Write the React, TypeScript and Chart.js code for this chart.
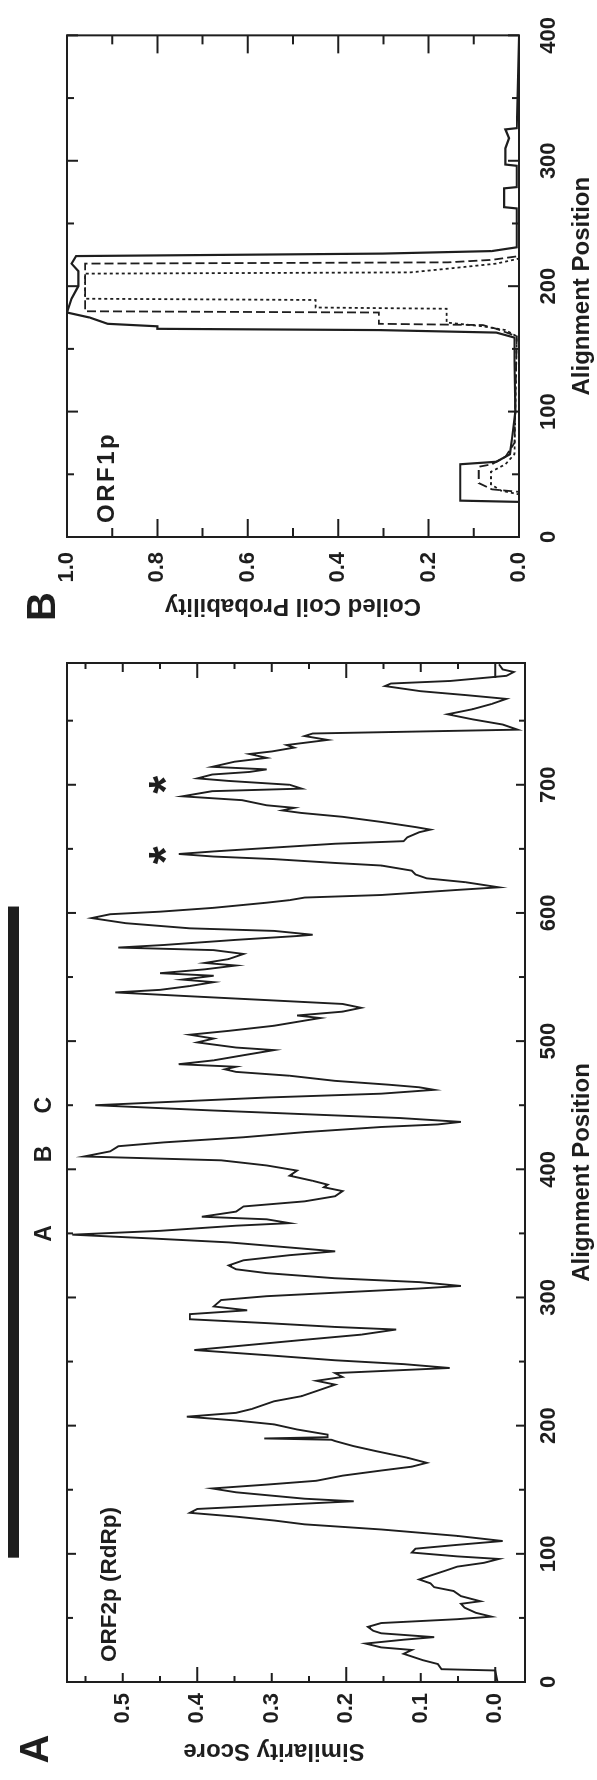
import React, { useEffect, useRef } from 'react';
import { Chart, registerables } from 'chart.js';

Chart.register(...registerables);

const FONT = '"Liberation Sans", Arial, Helvetica, sans-serif';
const INK = '#1e1e1e';

// ---------------- Panel A : ORF2p (RdRp) similarity plot ----------------
const orf2Position = [
  0, 9, 10, 14, 17, 22, 25, 27, 30, 33, 35, 38, 40, 43, 46, 49, 51, 54, 58, 61, 63, 67, 71, 74, 77, 80, 83, 87, 90, 93,
  96, 98, 101, 104, 107, 110, 114, 119, 123, 126, 129, 132, 135, 138, 141, 143, 148, 151, 154, 157, 161, 165, 168, 171,
  175, 180, 184, 188, 189, 190, 191, 193, 197, 201, 204, 207, 210, 213, 219, 223, 228, 232, 235, 238, 241, 245, 248, 251,
  255, 259, 262, 267, 271, 275, 277, 280, 283, 287, 290, 293, 298, 301, 304, 307, 309, 312, 315, 319, 322, 325, 329, 333,
  336, 339, 343, 346, 349, 352, 356, 358, 361, 363, 367, 371, 375, 379, 383, 386, 388, 391, 395, 399, 403, 407, 410, 414,
  418, 421, 425, 429, 433, 435, 437, 440, 443, 446, 450, 452, 456, 459, 462, 464, 466, 469, 473, 476, 478, 480, 482, 485,
  489, 493, 495, 499, 502, 505, 508, 512, 516, 518, 520, 523, 526, 529, 532, 535, 538, 540, 543, 546, 548, 551, 553, 556,
  559, 561, 564, 568, 571, 573, 575, 579, 582, 583, 586, 588, 592, 596, 599, 601, 604, 608, 610, 612, 614, 618, 620, 624,
  627, 630, 633, 637, 639, 642, 644, 646, 648, 651, 654, 656, 659, 663, 665, 667, 671, 675, 678, 680, 682, 684, 688, 691,
  695, 697, 700, 703, 705, 708, 710, 712, 714, 718, 721, 724, 726, 729, 731, 735, 738, 740, 743, 747, 751, 755, 759, 763,
  767, 770, 773, 777, 779, 781, 785, 788, 790, 794,
];
const orf2Similarity = [
  -0.003, 0.0, 0.072, 0.077, 0.097, 0.123, 0.112, 0.153, 0.174, 0.123, 0.082, 0.153, 0.164, 0.171, 0.153, 0.051, 0.005,
  0.026, 0.041, 0.046, 0.02, 0.046, 0.056, 0.082, 0.087, 0.102, 0.087, 0.066, 0.051, 0.015,
  -0.005, 0.051, 0.112, 0.107, 0.051, -0.01, 0.051, 0.153, 0.256, 0.297, 0.348, 0.41, 0.4, 0.297, 0.19, 0.256, 0.348,
  0.38, 0.307, 0.24, 0.205, 0.153, 0.112, 0.092,
  0.118, 0.159, 0.19, 0.215, 0.22, 0.31, 0.225, 0.225, 0.266, 0.297, 0.348, 0.414, 0.348, 0.327, 0.297, 0.26, 0.235,
  0.215, 0.24, 0.205, 0.215, 0.061, 0.123, 0.215,
  0.307, 0.404, 0.348, 0.256, 0.18, 0.133, 0.215, 0.307, 0.41, 0.41, 0.333, 0.378, 0.368, 0.307, 0.205, 0.102, 0.046,
  0.102, 0.215, 0.307, 0.348, 0.358, 0.338, 0.276,
  0.215, 0.276, 0.358, 0.46, 0.568, 0.45, 0.348, 0.276, 0.307, 0.394, 0.348, 0.338, 0.256, 0.215, 0.205, 0.23, 0.225,
  0.245, 0.276, 0.266, 0.307, 0.368, 0.552, 0.517,
  0.506, 0.445, 0.338, 0.256, 0.153, 0.077, 0.046, 0.128, 0.256, 0.384, 0.537, 0.46, 0.307, 0.153, 0.082, 0.102, 0.143,
  0.215, 0.276, 0.348, 0.363, 0.348, 0.425, 0.378,
  0.338, 0.297, 0.348, 0.4, 0.378, 0.41, 0.358, 0.297, 0.256, 0.235, 0.266, 0.205, 0.18, 0.205, 0.307, 0.41, 0.51, 0.45,
  0.41, 0.378, 0.42, 0.378, 0.45, 0.39,
  0.348, 0.39, 0.358, 0.338, 0.378, 0.506, 0.445, 0.348, 0.266, 0.245, 0.297, 0.41, 0.496, 0.542, 0.517, 0.45, 0.378,
  0.307, 0.276, 0.256, 0.153, 0.05, -0.005, 0.04,
  0.092, 0.107, 0.112, 0.153, 0.215, 0.297, 0.378, 0.425, 0.378, 0.297, 0.215, 0.123, 0.118, 0.102, 0.087, 0.107, 0.153,
  0.205, 0.26, 0.286, 0.27, 0.307, 0.34, 0.42,
  0.38, 0.26, 0.276, 0.358, 0.4, 0.38, 0.33, 0.307, 0.38, 0.35, 0.307, 0.33, 0.3, 0.27, 0.28, 0.225, 0.256, 0.245, -0.03,
  -0.01, 0.03, 0.064, 0.03, 0.005,
  -0.015, 0.04, 0.1, 0.148, 0.14, 0.06, -0.015, -0.025, -0.01, -0.005,
];
const motifLabels = ['A', 'B', 'C'];
const motifPositions = [350, 412, 450];
const asteriskPositions = [645, 700];
const asteriskLevel = 0.453;
const rdrpBarRange = [97, 605];
const simLabelTicks = [0, 0.1, 0.2, 0.3, 0.4, 0.5];
const simTickMarks = [0, 0.05, 0.1, 0.15, 0.2, 0.25, 0.3, 0.35, 0.4, 0.45, 0.5, 0.55];
const posLabelTicksA = [0, 100, 200, 300, 400, 500, 600, 700];
const posTickMarksA = [0, 50, 100, 150, 200, 250, 300, 350, 400, 450, 500, 550, 600, 650, 700, 750];

// ---------------- Panel B : ORF1p coiled-coil probability ----------------
const coilSolidPos = [0, 28, 29, 58, 60, 66, 80, 100, 140, 159, 163, 165, 166, 168, 170, 175, 179, 190, 200, 212, 218, 224,
  226, 228, 231, 262, 263, 278, 279, 296, 297, 310, 318, 325, 326, 400];
const coilSolidProb = [0, 0, 0.13, 0.13, 0.05, 0.02, 0.015, 0.008, 0.01, 0.01, 0.05, 0.31, 0.8, 0.8, 0.91, 0.95, 1.0, 0.99,
  0.975, 0.975, 0.99, 0.98, 0.3, 0.06, 0.005, 0.005, 0.033, 0.033, 0.005, 0.005, 0.03, 0.03, 0.022, 0.03, 0.005, 0];
const coilDashPos = [0, 36, 38, 43, 56, 58, 64, 75, 160, 166, 169, 170, 179, 180, 218, 219, 221, 224, 400];
const coilDashProb = [0, 0, 0.06, 0.089, 0.089, 0.06, 0.03, 0.01, 0.005, 0.05, 0.08, 0.31, 0.31, 0.96, 0.96, 0.157, 0.06, 0, 0];
const coilDotPos = [0, 34, 37, 42, 52, 58, 66, 160, 165, 168, 171, 182, 183, 189, 190, 210, 211, 214, 218, 222, 400];
const coilDotProb = [0, 0, 0.04, 0.062, 0.062, 0.03, 0.01, 0.005, 0.03, 0.08, 0.16, 0.16, 0.45, 0.45, 0.96, 0.96, 0.24,
  0.157, 0.05, 0, 0];
const probLabelTicks = [0, 0.2, 0.4, 0.6, 0.8, 1.0];
const probTickMarks = [0, 0.1, 0.2, 0.3, 0.4, 0.5, 0.6, 0.7, 0.8, 0.9, 1.0];
const posLabelTicksB = [0, 100, 200, 300, 400];
const posTickMarksB = [0, 50, 100, 150, 200, 250, 300, 350, 400];

const isMult = (v: number, step: number) => Math.abs(v / step - Math.round(v / step)) < 1e-6;

function textCentered(ctx: CanvasRenderingContext2D, text: string, cx: number, cy: number, font: string, align: CanvasTextAlign = 'center') {
  ctx.font = font;
  ctx.textAlign = align;
  ctx.textBaseline = 'alphabetic';
  const m = ctx.measureText(text);
  ctx.fillText(text, cx, cy + (m.actualBoundingBoxAscent - m.actualBoundingBoxDescent) / 2);
}

function frame(chart: any, xMarks: number[], xLen: (v: number) => number, yMarks: number[], yLen: (v: number) => number) {
  const { ctx, chartArea, scales } = chart;
  const { left, right, top, bottom } = chartArea;
  ctx.save();
  ctx.strokeStyle = INK;
  ctx.lineWidth = 2;
  ctx.strokeRect(left, top, right - left, bottom - top);
  ctx.beginPath();
  for (const v of xMarks) {
    const px = scales.x.getPixelForValue(v);
    const l = xLen(v);
    ctx.moveTo(px, bottom); ctx.lineTo(px, bottom - l);
    ctx.moveTo(px, top); ctx.lineTo(px, top + l);
  }
  for (const v of yMarks) {
    const py = scales.y.getPixelForValue(v);
    const l = yLen(v);
    ctx.moveTo(left, py); ctx.lineTo(left + l, py);
    ctx.moveTo(right, py); ctx.lineTo(right - l, py);
  }
  ctx.stroke();
  ctx.restore();
}

const tickFont = { family: FONT, size: 22, weight: 'bold' as const };
const titleFont = { family: FONT, size: 24, weight: 'bold' as const };

function PanelA() {
  const ref = useRef<HTMLCanvasElement>(null);
  useEffect(() => {
    const plugin = {
      id: 'frameA',
      afterDraw(chart: any) {
        frame(chart, posTickMarksA, (v) => (isMult(v, 100) ? 9 : 6), simTickMarks,
          (v) => (isMult(v, 0.2) ? 15 : isMult(v, 0.1) ? 9 : 6));
        const { ctx, chartArea, scales } = chart;
        const { top } = chartArea;
        ctx.save();
        ctx.fillStyle = INK;
        const x0 = scales.x.getPixelForValue(rdrpBarRange[0]);
        const x1 = scales.x.getPixelForValue(rdrpBarRange[1]);
        ctx.fillRect(x0, top - 59, x1 - x0, 11);
        motifLabels.forEach((t, i) => {
          textCentered(ctx, t, scales.x.getPixelForValue(motifPositions[i]), top - 25, `bold 23px ${FONT}`);
        });
        asteriskPositions.forEach((p) => {
          textCentered(ctx, '*', scales.x.getPixelForValue(p), scales.y.getPixelForValue(asteriskLevel), `bold 46px ${FONT}`);
        });
        ctx.font = `bold 22.5px ${FONT}`;
        const m = ctx.measureText('ORF2p (RdRp)');
        ctx.textAlign = 'left';
        ctx.textBaseline = 'alphabetic';
        ctx.fillText('ORF2p (RdRp)', 118, 110 + (m.actualBoundingBoxAscent - m.actualBoundingBoxDescent) / 2);
        textCentered(ctx, 'A', 31, 34, `bold 40px ${FONT}`);
        // y-axis title, placed a little above the plot centre as in the original figure
        ctx.translate(29, 274);
        ctx.rotate(-Math.PI / 2);
        textCentered(ctx, 'Similarity Score', 0, 0, `bold 24px ${FONT}`);
        ctx.restore();
      },
    };
    const chart = new Chart(ref.current!, {
      type: 'line',
      data: {
        datasets: [{
          data: orf2Position.map((x, i) => ({ x, y: orf2Similarity[i] })),
          borderColor: INK,
          borderWidth: 1.9,
          pointRadius: 0,
          fill: false,
          tension: 0,
        }],
      },
      options: {
        animation: false,
        responsive: false,
        devicePixelRatio: 1,
        layout: { padding: { left: 0, top: 67, right: 23, bottom: 0 } },
        plugins: { legend: { display: false }, tooltip: { enabled: false } },
        scales: {
          x: {
            type: 'linear', min: 0, max: 795,
            afterFit: (s: any) => { s.height = 72; },
            afterBuildTicks: (s: any) => { s.ticks = posLabelTicksA.map((value) => ({ value })); },
            grid: { display: false, drawTicks: false },
            border: { display: false },
            ticks: { autoSkip: false, maxRotation: 0, padding: 11, color: INK, font: tickFont, callback: (v: any) => String(v) },
            title: { display: true, text: 'Alignment Position', color: INK, font: titleFont, padding: { top: 0, bottom: 0 } },
          },
          y: {
            type: 'linear', min: -0.04, max: 0.575,
            afterFit: (s: any) => { s.width = 98; },
            afterBuildTicks: (s: any) => { s.ticks = simLabelTicks.map((value) => ({ value })); },
            grid: { display: false, drawTicks: false },
            border: { display: false },
            ticks: { autoSkip: false, padding: 11, color: INK, font: tickFont, callback: (v: any) => Number(v).toFixed(1) },
            title: { display: false },
          },
        },
      },
      plugins: [plugin],
    } as any);
    return () => chart.destroy();
  }, []);
  return <canvas ref={ref} width={1140} height={597} style={{ position: 'absolute', left: 0, top: 0, width: 1140, height: 597 }} />;
}

function PanelB() {
  const ref = useRef<HTMLCanvasElement>(null);
  useEffect(() => {
    const plugin = {
      id: 'frameB',
      afterDraw(chart: any) {
        frame(chart, posTickMarksB, (v) => (isMult(v, 100) ? 11 : 7), probTickMarks, (v) => (isMult(v, 0.2) ? 18 : 9));
        const { ctx } = chart;
        ctx.save();
        ctx.fillStyle = INK;
        ctx.font = `bold 24px ${FONT}`;
        (ctx as any).letterSpacing = '2.5px';
        const m = ctx.measureText('ORF1p');
        ctx.textAlign = 'left';
        ctx.textBaseline = 'alphabetic';
        ctx.fillText('ORF1p', 117, 107.5 + (m.actualBoundingBoxAscent - m.actualBoundingBoxDescent) / 2);
        (ctx as any).letterSpacing = '0px';
        textCentered(ctx, 'B', 33.5, 41, `bold 40px ${FONT}`);
        ctx.restore();
      },
    };
    const ds = (xs: number[], ys: number[], width: number, dash: number[]) => ({
      data: xs.map((x, i) => ({ x, y: ys[i] })),
      borderColor: INK,
      borderWidth: width,
      borderDash: dash,
      pointRadius: 0,
      fill: false,
      tension: 0,
    });
    const chart = new Chart(ref.current!, {
      type: 'line',
      data: {
        datasets: [
          ds(coilDotPos, coilDotProb, 1.8, [3, 3]),
          ds(coilDashPos, coilDashProb, 1.8, [9, 4]),
          ds(coilSolidPos, coilSolidProb, 2.2, []),
        ],
      },
      options: {
        animation: false,
        responsive: false,
        devicePixelRatio: 1,
        layout: { padding: { left: 0, top: 67, right: 24, bottom: 0 } },
        plugins: { legend: { display: false }, tooltip: { enabled: false } },
        scales: {
          x: {
            type: 'linear', min: 0, max: 400,
            afterFit: (s: any) => { s.height = 78; },
            afterBuildTicks: (s: any) => { s.ticks = posLabelTicksB.map((value) => ({ value })); },
            grid: { display: false, drawTicks: false },
            border: { display: false },
            ticks: { autoSkip: false, maxRotation: 0, padding: 17, color: INK, font: tickFont, callback: (v: any) => String(v) },
            title: { display: true, text: 'Alignment Position', color: INK, font: titleFont, padding: { top: 0, bottom: 0 } },
          },
          y: {
            type: 'linear', min: 0, max: 1,
            afterFit: (s: any) => { s.width = 103; },
            afterBuildTicks: (s: any) => { s.ticks = probLabelTicks.map((value) => ({ value })); },
            grid: { display: false, drawTicks: false },
            border: { display: false },
            ticks: { autoSkip: false, padding: 15, color: INK, font: tickFont, callback: (v: any) => Number(v).toFixed(1) },
            title: { display: true, text: 'Coiled Coil Probability', color: INK, font: titleFont, padding: { top: 20, bottom: 0 } },
          },
        },
      },
      plugins: [plugin],
    } as any);
    return () => chart.destroy();
  }, []);
  return <canvas ref={ref} width={640} height={597} style={{ position: 'absolute', left: 1140, top: 0, width: 640, height: 597 }} />;
}

export default function App() {
  return (
    <div style={{ position: 'absolute', left: 0, top: 0, width: 597, height: 1780, overflow: 'hidden', background: '#fff' }}>
      <div style={{ position: 'absolute', left: 0, top: 0, width: 1780, height: 597, transformOrigin: '0 0', transform: 'translate(0px, 1780px) rotate(-90deg)' }}>
        <PanelA />
        <PanelB />
      </div>
    </div>
  );
}
